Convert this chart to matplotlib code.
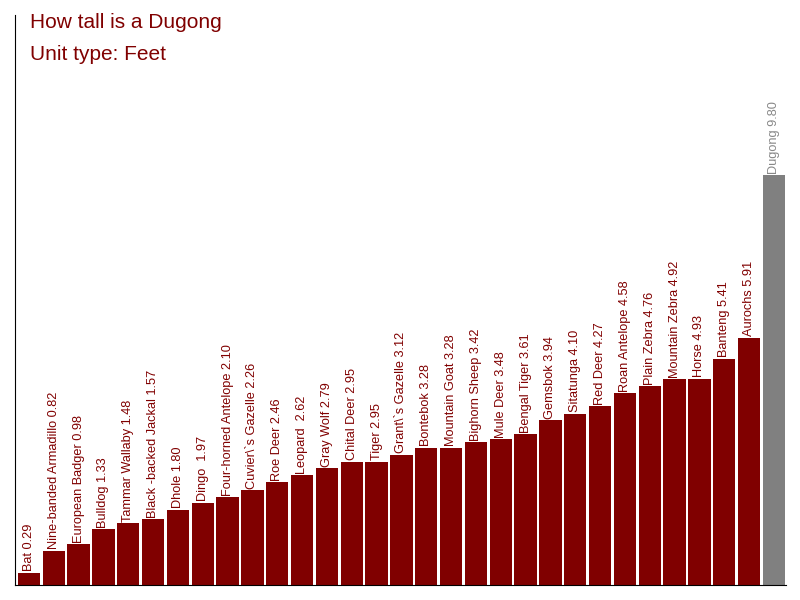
import matplotlib
matplotlib.use("Agg")
from matplotlib import pyplot as plt

names = ["Bat", "Nine-banded Armadillo", "European Badger", "Bulldog", "Tammar Wallaby",
         "Black -backed Jackal", "Dhole", "Dingo ", "Four-horned Antelope", "Cuvier\\`s Gazelle",
         "Roe Deer", "Leopard ", "Gray Wolf", "Chital Deer", "Tiger", "Grant\\`s Gazelle",
         "Bontebok", "Mountain Goat", "Bighorn Sheep", "Mule Deer", "Bengal Tiger", "Gemsbok",
         "Sitatunga", "Red Deer", "Roan Antelope", "Plain Zebra", "Mountain Zebra", "Horse",
         "Banteng", "Aurochs", "Dugong"]
heights = [0.29, 0.82, 0.98, 1.33, 1.48, 1.57, 1.80, 1.97, 2.10, 2.26, 2.46, 2.62, 2.79,
           2.95, 2.95, 3.12, 3.28, 3.28, 3.42, 3.48, 3.61, 3.94, 4.10, 4.27, 4.58, 4.76,
           4.92, 4.93, 5.41, 5.91, 9.80]
highlight = "Dugong"

plt.rcParams['font.family'] = ['Liberation Sans', 'DejaVu Sans']

fig = plt.figure(figsize=(8, 6), dpi=100)
ax = fig.add_axes([15/800, 15/600, 771/800, 570/600])

red = '#800000'
grey = '#808080'
colors = [grey if n == highlight else red for n in names]
x = list(range(len(names)))
ax.bar(x, heights, width=0.9, color=colors)

for xi, n, h in zip(x, names, heights):
    ax.annotate(f"{n} {h:.2f}", (xi, h), xytext=(0, 1), textcoords='offset points',
                rotation=90, ha='center', va='bottom', fontsize=9.2,
                color='#888888' if n == highlight else red)

ax.set_xlim(-0.56, 30.49)
ax.set_ylim(0, 13.63)
ax.set_xticks([])
ax.set_yticks([])
ax.spines['top'].set_visible(False)
ax.spines['right'].set_visible(False)

fig.text(30/800, 1 - 23/600, "How tall is a Dugong", fontsize=15, color=red, va='center')
fig.text(30/800, 1 - 54/600, "Unit type: Feet", fontsize=15, color=red, va='center')

fig.savefig("out.png", dpi=100)
